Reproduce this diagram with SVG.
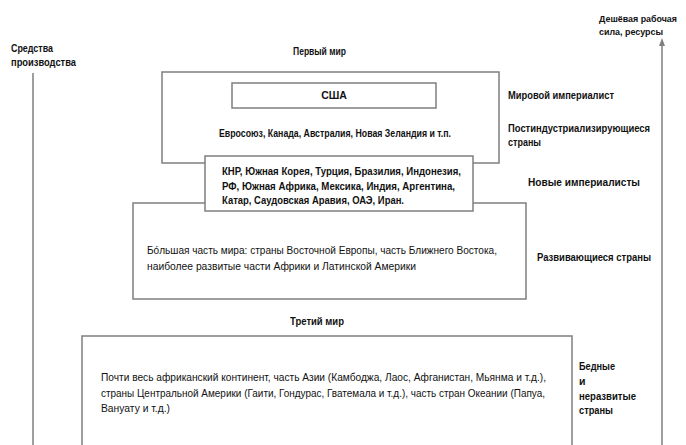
<svg xmlns="http://www.w3.org/2000/svg" width="686" height="445" viewBox="0 0 686 445">
<style>
.box{fill:#fff;stroke:#7f7f7f;stroke-width:1.5}
.ln{stroke:#7f7f7f;stroke-width:1.5;fill:none}
text{font-family:"Liberation Sans",Arial,sans-serif;font-size:10.5px;fill:#111}
.b{font-weight:bold}
.sm{font-size:9.5px}
</style>
<defs>
<marker id="ah" markerWidth="8" markerHeight="8" refX="4" refY="4" orient="auto" markerUnits="userSpaceOnUse">
<path d="M0,1 L8,4 L0,7 Z" fill="#7f7f7f"/>
</marker>
</defs>
<rect width="686" height="445" fill="#fff"/>
<g id="connectors">
<line class="ln" x1="33" y1="73" x2="33" y2="445"/>
<line class="ln" x1="662" y1="445" x2="662" y2="42" marker-end="url(#ah)"/>
</g>
<g id="axis-left">
<text class="b" x="11" y="52" textLength="42" lengthAdjust="spacingAndGlyphs">Средства</text>
<text class="b" x="11" y="66" textLength="65" lengthAdjust="spacingAndGlyphs">производства</text>
</g>
<g id="axis-right">
<text class="b sm" x="599" y="22" textLength="78" lengthAdjust="spacingAndGlyphs">Дешёвая рабочая</text>
<text class="b sm" x="599" y="35" textLength="64" lengthAdjust="spacingAndGlyphs">сила, ресурсы</text>
</g>
<g id="first-world-title">
<text class="b" x="293" y="55" textLength="53" lengthAdjust="spacingAndGlyphs">Первый мир</text>
</g>
<g id="first-world">
<rect class="box" x="162" y="72" width="337" height="91"/>
<text class="b" x="219" y="137" textLength="232" lengthAdjust="spacingAndGlyphs">Евросоюз, Канада, Австралия, Новая Зеландия и т.п.</text>
</g>
<g id="usa">
<rect class="box" x="232" y="83" width="204" height="25"/>
<text class="b" x="334" y="99" text-anchor="middle">США</text>
</g>
<g id="developing">
<rect class="box" x="133" y="203" width="393" height="96"/>
<text x="147" y="254" textLength="350" lengthAdjust="spacingAndGlyphs">Бóльшая часть мира: страны Восточной Европы, часть Ближнего Востока,</text>
<text x="147" y="270" textLength="269" lengthAdjust="spacingAndGlyphs">наиболее развитые части Африки и Латинской Америки</text>
</g>
<g id="new-imperialists">
<rect class="box" x="205" y="156" width="268" height="55"/>
<text class="b" x="222" y="175" textLength="239" lengthAdjust="spacingAndGlyphs">КНР, Южная Корея, Турция, Бразилия, Индонезия,</text>
<text class="b" x="222" y="190" textLength="233" lengthAdjust="spacingAndGlyphs">РФ, Южная Африка, Мексика, Индия, Аргентина,</text>
<text class="b" x="222" y="204" textLength="182" lengthAdjust="spacingAndGlyphs">Катар, Саудовская Аравия, ОАЭ, Иран.</text>
</g>
<g id="third-world-title">
<text class="b" x="290" y="325" textLength="54" lengthAdjust="spacingAndGlyphs">Третий мир</text>
</g>
<g id="third-world">
<rect class="box" x="82" y="336" width="490" height="130"/>
<text x="101" y="381" textLength="445" lengthAdjust="spacingAndGlyphs">Почти весь африканский континент, часть Азии (Камбоджа, Лаос, Афганистан, Мьянма и т.д.),</text>
<text x="101" y="397" textLength="444" lengthAdjust="spacingAndGlyphs">страны Центральной Америки (Гаити, Гондурас, Гватемала и т.д.), часть стран Океании (Папуа,</text>
<text x="101" y="412" textLength="69" lengthAdjust="spacingAndGlyphs">Вануату и т.д.)</text>
</g>
<g id="labels">
<text class="b" x="508" y="99" textLength="106" lengthAdjust="spacingAndGlyphs">Мировой империалист</text>
<text class="b" x="508" y="132" textLength="142" lengthAdjust="spacingAndGlyphs">Постиндустриализирующиеся</text>
<text class="b" x="508" y="146" textLength="33" lengthAdjust="spacingAndGlyphs">страны</text>
<text class="b" x="528" y="186" textLength="112" lengthAdjust="spacingAndGlyphs">Новые империалисты</text>
<text class="b" x="537" y="261" textLength="114" lengthAdjust="spacingAndGlyphs">Развивающиеся страны</text>
<text class="b" x="579" y="370" textLength="36" lengthAdjust="spacingAndGlyphs">Бедные</text>
<text class="b" x="579" y="385">и</text>
<text class="b" x="579" y="400" textLength="57" lengthAdjust="spacingAndGlyphs">неразвитые</text>
<text class="b" x="579" y="414" textLength="34" lengthAdjust="spacingAndGlyphs">страны</text>
</g>
</svg>
